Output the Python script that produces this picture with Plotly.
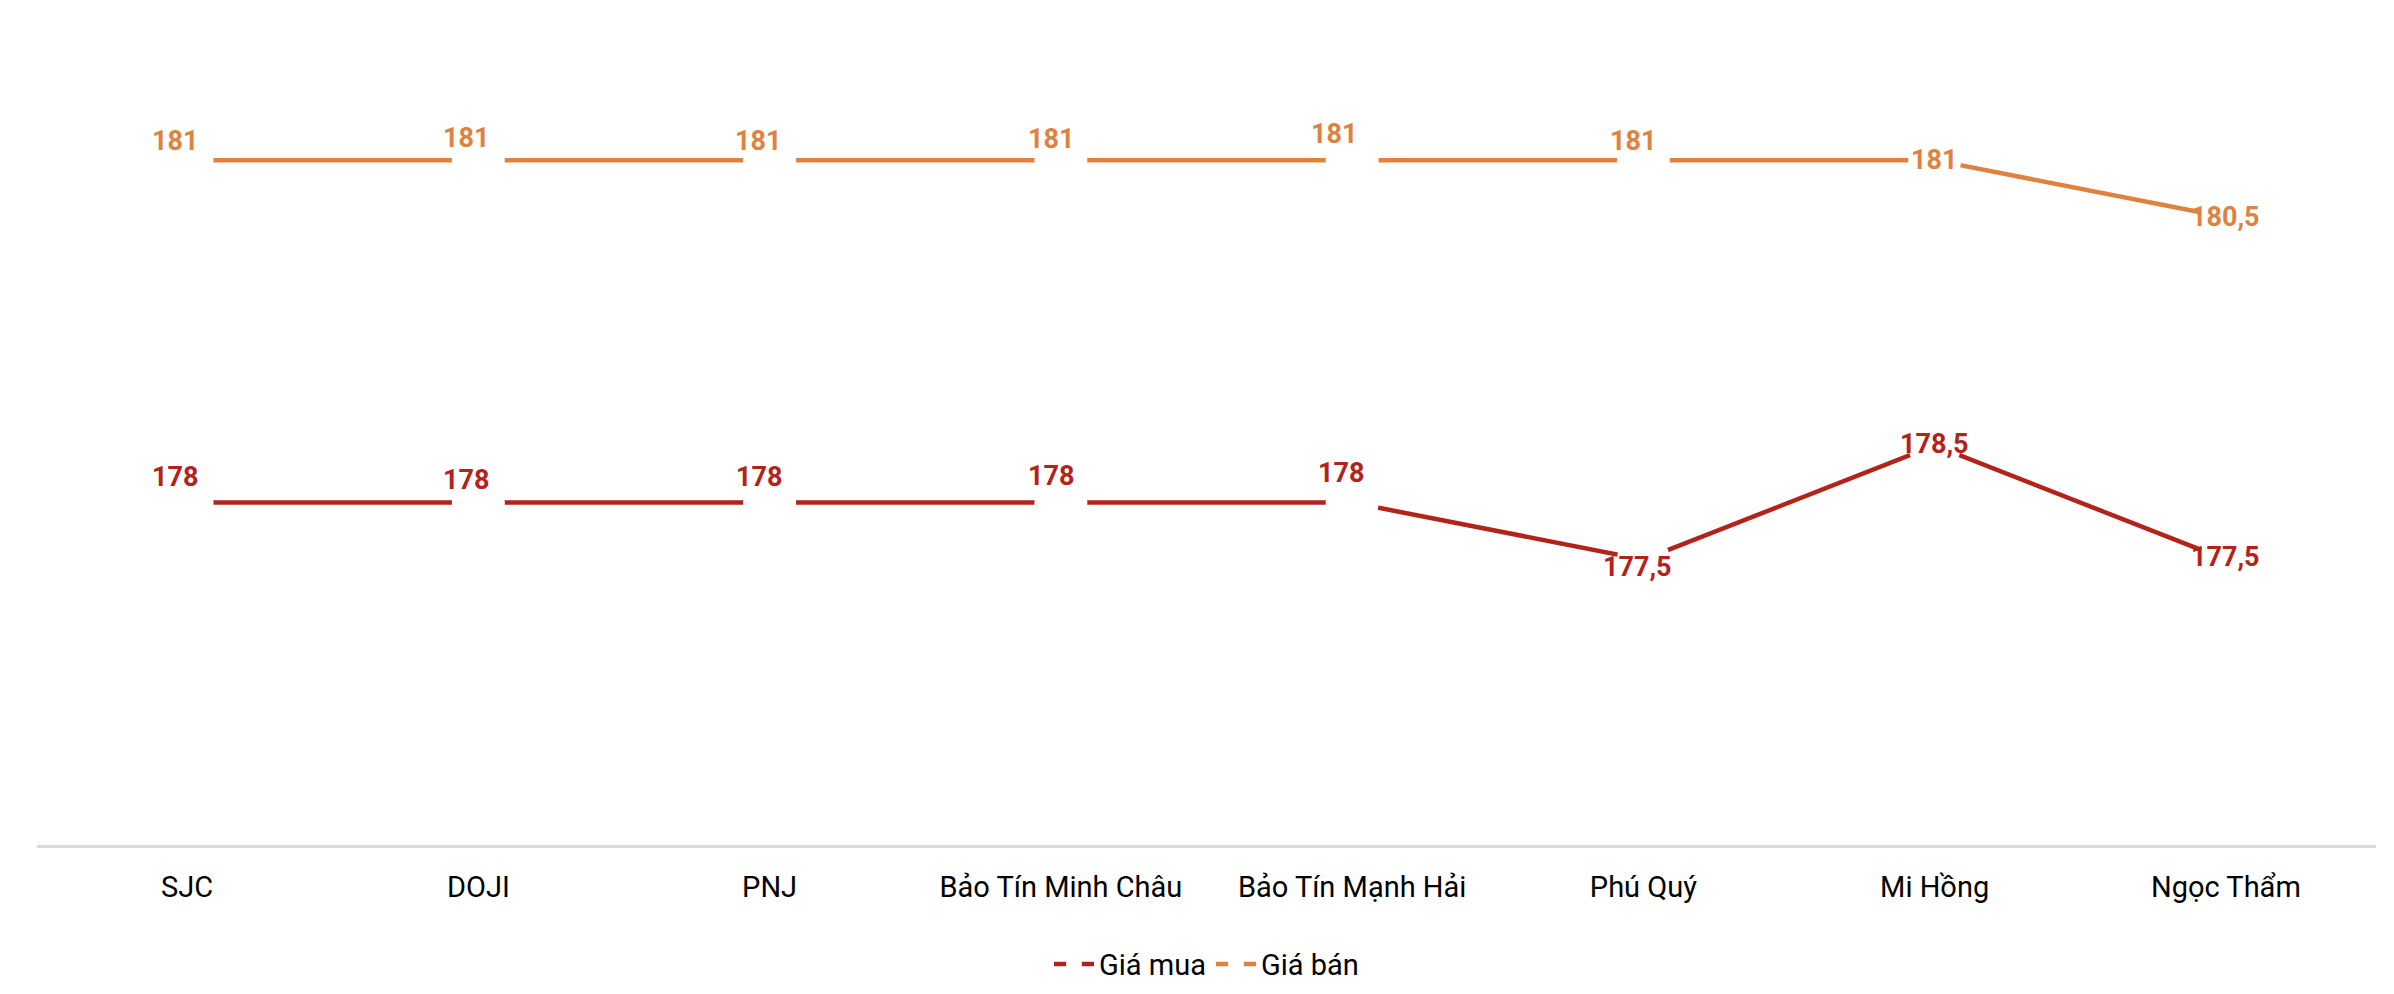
"""Giá vàng miếng: giá mua / giá bán theo doanh nghiệp."""

import plotly.graph_objects as go

brands = ["SJC", "DOJI", "PNJ", "Bảo Tín Minh Châu", "Bảo Tín Mạnh Hải",
          "Phú Quý", "Mi Hồng", "Ngọc Thẩm"]
gia_mua = [178, 178, 178, 178, 178, 177.5, 178.5, 177.5]
gia_ban = [181, 181, 181, 181, 181, 181, 181, 180.5]

RED = "#B2231A"
ORANGE = "#E0823F"
FONT = "Roboto, Calibri, Carlito, sans-serif"

# label nudges (px) so the numbers sit like the original Excel labels
MUA_DX = [-12, -12, -11, -10, -11, -6, 0, 0]
MUA_DY = [26, 23, 26, 27, 30, -7, 2, 3]
BAN_DX = [-12, -12, -12, -10, -18, -10, -1, 0]
BAN_DY = [19, 22, 19, 21, 26, 19, 0, 0]


def fmt(v: float) -> str:
    return f"{v:g}".replace(".", ",")


fig = go.Figure()
for name, vals, color in [("Giá mua", gia_mua, RED), ("Giá bán", gia_ban, ORANGE)]:
    fig.add_scatter(
        x=brands, y=vals, name=name, mode="lines+markers",
        line=dict(color=color, width=4.5),
        # white blobs under the labels break the line like the Excel chart
        marker=dict(symbol="circle", size=53, color="white", line=dict(width=0)),
        hoverinfo="skip",
    )

annotations = []
for vals, color, dxs, dys in [(gia_mua, RED, MUA_DX, MUA_DY),
                              (gia_ban, ORANGE, BAN_DX, BAN_DY)]:
    for b, v, dx, dy in zip(brands, vals, dxs, dys):
        annotations.append(dict(
            x=b, y=v, text=f"<b>{fmt(v)}</b>", showarrow=False,
            xshift=dx, yshift=dy,
            font=dict(family=FONT, size=27, color=color),
        ))

# the page body adds a few px on the left/top, margins account for it
fig.update_layout(
    width=2394, height=994,
    margin=dict(l=29, r=26, t=38, b=149),
    paper_bgcolor="white", plot_bgcolor="white",
    font=dict(family=FONT, size=29, color="black"),
    showlegend=True,
    legend=dict(orientation="h", x=0.5, xanchor="center", y=-0.149,
                yanchor="middle", font=dict(size=29), itemwidth=40),
    xaxis=dict(showgrid=False, showline=True, linecolor="#D9D9D9",
               linewidth=3, ticks="", ticklabelstandoff=14,
               tickfont=dict(size=29)),
    yaxis=dict(range=[175, 182], visible=False, showgrid=False,
               zeroline=False),
    annotations=annotations,
)

fig.write_html("out.html")
